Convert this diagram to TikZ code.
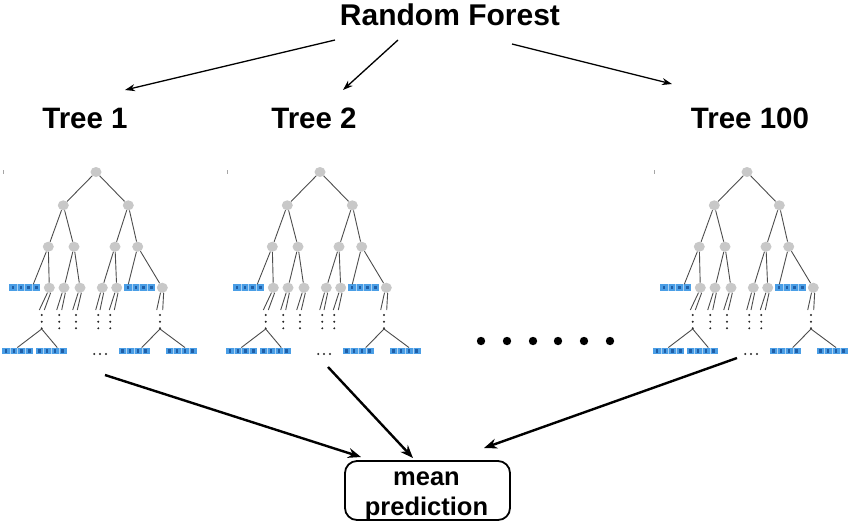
\documentclass[tikz,border=0pt]{standalone}
\usepackage{fontspec}
\setmainfont{Liberation Sans}
\usetikzlibrary{shapes.geometric,arrows.meta}
\definecolor{nodegray}{HTML}{C8C8C8}
\definecolor{edgegray}{HTML}{4D4D4D}
\definecolor{leafblue}{HTML}{4A9EE6}
\definecolor{leafdark}{HTML}{1F5FA8}
\tikzset{
  gnode/.style={ellipse, fill=nodegray, minimum width=11pt, minimum height=10pt, inner sep=0pt},
  leaf/.style={rectangle, fill=leafblue, minimum width=31pt, minimum height=6.5pt, inner sep=0pt,
    path picture={
      \foreach \i in {0,1,2,3}{
        \fill[leafdark] ([xshift={2.6pt+7.75pt*\i}, yshift=1.7pt]path picture bounding box.south west) rectangle ++(2.6pt,3.1pt);
      }
      \foreach \i in {1,2,3}{
        \draw[white!55!leafblue, line width=0.5pt] ([xshift={7.75pt*\i}]path picture bounding box.south west) -- ([xshift={7.75pt*\i}]path picture bounding box.north west);
      }
    }},
  edge/.style={draw=edgegray, line width=0.9pt},
  smalldot/.style={fill=black!85},
  title/.style={font=\bfseries\fontsize{30}{30}\selectfont, inner sep=0pt},
  treetitle/.style={font=\bfseries\fontsize{29.5}{30}\selectfont, inner sep=0pt},
  meanbox/.style={draw, line width=1.8pt, rounded corners=12pt, minimum width=165pt, minimum height=59pt, inner sep=0pt},
  meantext/.style={align=center, inner sep=0pt, font=\bfseries\fontsize{25.5}{30}\selectfont},
  toparrow/.style={draw, line width=1.3pt, -{Stealth[length=10pt,width=7pt]}},
  botarrow/.style={draw, line width=2.4pt, -{Stealth[length=13pt,width=10pt]}},
  rftree/.pic={
    \node[gnode] (r) at (0,0) {};
    \node[gnode] (a) at (-32.7,33.3) {};
    \node[gnode] (b) at (32.3,33.3) {};
    \node[gnode] (aa) at (-47.7,74.7) {};
    \node[gnode] (ab) at (-22,74.7) {};
    \node[gnode] (ba) at (19,74.7) {};
    \node[gnode] (bb) at (41.7,74.7) {};
    \node[leaf] (la) at (-71.3,115.7) {};
    \node[gnode] (aab) at (-46.7,115.7) {};
    \node[gnode] (aba) at (-32,115.7) {};
    \node[gnode] (abb) at (-16,115.7) {};
    \node[gnode] (baa) at (6.3,115.7) {};
    \node[gnode] (bab) at (20.7,115.7) {};
    \node[leaf] (lb) at (43.7,115.7) {};
    \node[gnode] (bbb) at (66.3,115.7) {};
    \node[leaf] (c1) at (-78.3,179) {};
    \node[leaf] (c2) at (-45,179) {};
    \node[leaf] (c3) at (38,179) {};
    \node[leaf] (c4) at (85,179) {};
    \draw[edge] (r) -- (a);
    \draw[edge] (r) -- (b);
    \draw[edge] (a) -- (aa);
    \draw[edge] (a) -- (ab);
    \draw[edge] (b) -- (ba);
    \draw[edge] (b) -- (bb);
    \draw[edge] (aa) -- ([xshift=8.6pt]la.north);
    \draw[edge] (aa) -- (aab);
    \draw[edge] (ab) -- (aba);
    \draw[edge] (ab) -- (abb);
    \draw[edge] (ba) -- (baa);
    \draw[edge] (ba) -- (bab);
    \draw[edge] (bb) -- ([xshift=-11.4pt]lb.north);
    \draw[edge] (bb) -- (bbb);
    % short stubs below level 3
    \coordinate (aab-p) at (-56.7,138); \coordinate (aab-q) at (-51.7,138);
    \coordinate (aba-p) at (-39.3,138); \coordinate (aba-q) at (-34.3,138);
    \coordinate (abb-p) at (-23.3,138); \coordinate (abb-q) at (-18.7,138);
    \coordinate (baa-p) at (-0.3,138);  \coordinate (baa-q) at (4,138);
    \coordinate (bab-p) at (13.3,138);  \coordinate (bab-q) at (18.3,138);
    \coordinate (bbb-p) at (60.7,138);  \coordinate (bbb-q) at (66.7,138);
    \foreach \n in {aab,aba,abb,baa,bab,bbb}{
      \draw[edge] (\n.250) -- (\n-p);
      \draw[edge] (\n.285) -- (\n-q);
    }
    \foreach \x in {-54.3,-36.7,-20,2.3,14.3,64}{
      \foreach \y in {143,149.7,156.3}{
        \fill[smalldot] (\x,\y) circle (1.1pt);
      }
    }
    \coordinate (ja) at (-54.3,157);
    \coordinate (jb) at (64,157);
    \draw[edge] (ja) -- ([xshift=-0.4pt]c1.north);
    \draw[edge] (ja) -- ([xshift=6.3pt]c2.north);
    \draw[edge] (jb) -- ([xshift=7.7pt]c3.north);
    \draw[edge] (jb) -- ([xshift=4pt]c4.north);
    \foreach \x in {-1.7,4,10}{
      \fill[smalldot] (\x,182) circle (1.1pt);
    }
    \draw[black!35, line width=0.5pt] (-93,-2) -- (-93,2);
  }
}
\begin{document}
\begin{tikzpicture}[x=1pt,y=-1pt]
  \useasboundingbox[fill=white] (0,0) rectangle (850,523);
  \node[title] (rf) at (450,15) {Random Forest};
  \node[treetitle] (tt1) at (85,118) {Tree 1};
  \node[treetitle] (tt2) at (314,118) {Tree 2};
  \node[treetitle] (tt3) at (750,118) {Tree 100};
  \pic (t1) at (96,172) {rftree};
  \pic (t2) at (320,172) {rftree};
  \pic (t3) at (747,172) {rftree};
  \foreach \x [count=\k] in {481,507,533,558,584,610}{
    \fill (\x,341) circle (4.2pt) coordinate (bd\k);
  }
  \node[meanbox] (mp) at (427.5,490.5) {};
  \node[meantext] (mpt) at (426.5,496) {mean\\prediction};
  % top arrows
  \coordinate (s1) at (335,40); \coordinate (e1) at (125,90);
  \coordinate (s2) at (398,40); \coordinate (e2) at (343,90);
  \coordinate (s3) at (512,44); \coordinate (e3) at (672,84);
  \draw[toparrow] (s1) -- (e1);
  \draw[toparrow] (s2) -- (e2);
  \draw[toparrow] (s3) -- (e3);
  % bottom arrows
  \coordinate (b1) at (105,375); \coordinate (f1) at (361,457);
  \coordinate (b2) at (328,367); \coordinate (f2) at (413,458);
  \coordinate (b3) at (737,358); \coordinate (f3) at (484,448);
  \draw[botarrow] (b1) -- (f1);
  \draw[botarrow] (b2) -- (f2);
  \draw[botarrow] (b3) -- (f3);
\end{tikzpicture}
\end{document}
